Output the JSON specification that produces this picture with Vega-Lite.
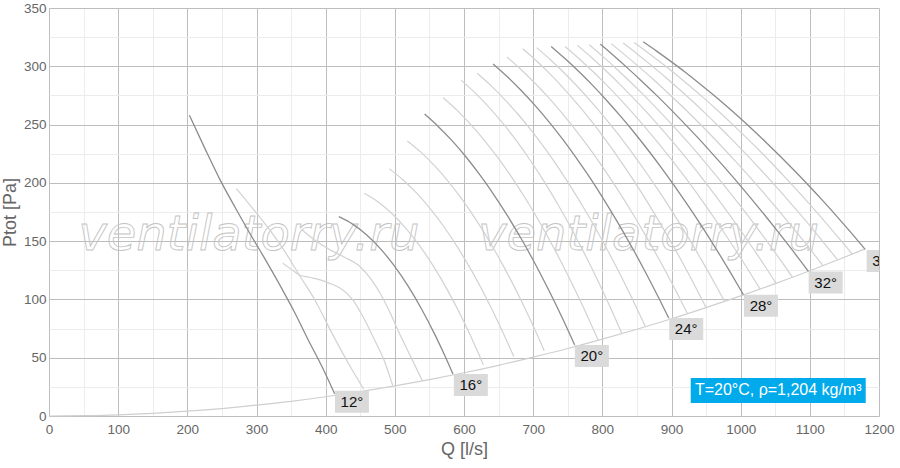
{
  "$schema": "https://vega.github.io/schema/vega-lite/v6.json",
  "width": 830,
  "height": 408,
  "autosize": "none",
  "padding": {"left": 49, "top": 8, "right": 21, "bottom": 52},
  "background": "#ffffff",
  "view": {"stroke": null},
  "config": {"font": "Liberation Sans"},
  "datasets": {
    "watermark": [
      {"q": 289, "p": 142, "text": "ventilatorry.ru"},
      {"q": 867, "p": 142, "text": "ventilatorry.ru"}
    ],
    "system": [
      {"q": 0, "p": 0}, {"q": 50, "p": 0.3}, {"q": 100, "p": 1}, {"q": 150, "p": 2.3}, {"q": 200, "p": 4.1},
      {"q": 250, "p": 6.4}, {"q": 300, "p": 9.3}, {"q": 350, "p": 12.6}, {"q": 400, "p": 16.5}, {"q": 450, "p": 20.9},
      {"q": 500, "p": 25.8}, {"q": 550, "p": 31.2}, {"q": 600, "p": 37.1}, {"q": 650, "p": 43.5}, {"q": 700, "p": 50.5},
      {"q": 750, "p": 57.9}, {"q": 800, "p": 65.9}, {"q": 850, "p": 74.4}, {"q": 900, "p": 83.4}, {"q": 950, "p": 93},
      {"q": 1000, "p": 103}, {"q": 1050, "p": 113.6}, {"q": 1100, "p": 124.6}, {"q": 1150, "p": 136.2}, {"q": 1180, "p": 143.4}
    ],
    "curves": [
      {"angle": 12, "q": 203, "p": 258}, {"angle": 12, "q": 225, "p": 230}, {"angle": 12, "q": 247, "p": 203}, {"angle": 12, "q": 270, "p": 178}, {"angle": 12, "q": 290, "p": 157}, {"angle": 12, "q": 312, "p": 135}, {"angle": 12, "q": 335, "p": 111}, {"angle": 12, "q": 355, "p": 89}, {"angle": 12, "q": 375, "p": 65}, {"angle": 12, "q": 395, "p": 42}, {"angle": 12, "q": 413, "p": 19},
      {"angle": 13, "q": 271, "p": 195}, {"angle": 13, "q": 285, "p": 185}, {"angle": 13, "q": 300, "p": 174}, {"angle": 13, "q": 320, "p": 159}, {"angle": 13, "q": 341, "p": 141}, {"angle": 13, "q": 365, "p": 118}, {"angle": 13, "q": 384, "p": 100}, {"angle": 13, "q": 410, "p": 70}, {"angle": 13, "q": 433, "p": 45}, {"angle": 13, "q": 455, "p": 23},
      {"angle": 14, "q": 338, "p": 131}, {"angle": 14, "q": 350, "p": 126}, {"angle": 14, "q": 362, "p": 121}, {"angle": 14, "q": 376, "p": 119}, {"angle": 14, "q": 391, "p": 117}, {"angle": 14, "q": 405, "p": 114}, {"angle": 14, "q": 420, "p": 110}, {"angle": 14, "q": 431, "p": 105}, {"angle": 14, "q": 440, "p": 99}, {"angle": 14, "q": 455, "p": 84}, {"angle": 14, "q": 470, "p": 66}, {"angle": 14, "q": 485, "p": 47}, {"angle": 14, "q": 497, "p": 26},
      {"angle": 15, "q": 365, "p": 160}, {"angle": 15, "q": 384, "p": 151}, {"angle": 15, "q": 405, "p": 143}, {"angle": 15, "q": 428, "p": 136}, {"angle": 15, "q": 450, "p": 128}, {"angle": 15, "q": 466, "p": 117}, {"angle": 15, "q": 480, "p": 104}, {"angle": 15, "q": 492, "p": 90}, {"angle": 15, "q": 505, "p": 73}, {"angle": 15, "q": 522, "p": 52}, {"angle": 15, "q": 540, "p": 30},
      {"angle": 16, "q": 419, "p": 171}, {"angle": 16, "q": 439, "p": 164.6}, {"angle": 16, "q": 459, "p": 155.5}, {"angle": 16, "q": 479, "p": 143.6}, {"angle": 16, "q": 499, "p": 129}, {"angle": 16, "q": 519, "p": 111.6}, {"angle": 16, "q": 539, "p": 91.4}, {"angle": 16, "q": 559, "p": 68.5}, {"angle": 16, "q": 574, "p": 49.5}, {"angle": 16, "q": 584, "p": 36},
      {"angle": 17, "q": 456, "p": 191}, {"angle": 17, "q": 476, "p": 183.5}, {"angle": 17, "q": 496, "p": 173.5}, {"angle": 17, "q": 516, "p": 161}, {"angle": 17, "q": 536, "p": 145.9}, {"angle": 17, "q": 556, "p": 128.3}, {"angle": 17, "q": 576, "p": 108.2}, {"angle": 17, "q": 596, "p": 85.5}, {"angle": 17, "q": 616, "p": 60.3}, {"angle": 17, "q": 628, "p": 44},
      {"angle": 18, "q": 492, "p": 212}, {"angle": 18, "q": 512, "p": 202.5}, {"angle": 18, "q": 532, "p": 191}, {"angle": 18, "q": 552, "p": 177.3}, {"angle": 18, "q": 572, "p": 161.5}, {"angle": 18, "q": 592, "p": 143.6}, {"angle": 18, "q": 612, "p": 123.6}, {"angle": 18, "q": 632, "p": 101.5}, {"angle": 18, "q": 652, "p": 77.3}, {"angle": 18, "q": 672, "p": 51},
      {"angle": 19, "q": 518, "p": 236}, {"angle": 19, "q": 538, "p": 226.1}, {"angle": 19, "q": 558, "p": 214.3}, {"angle": 19, "q": 578, "p": 200.7}, {"angle": 19, "q": 598, "p": 185.2}, {"angle": 19, "q": 618, "p": 167.8}, {"angle": 19, "q": 638, "p": 148.6}, {"angle": 19, "q": 658, "p": 127.5}, {"angle": 19, "q": 678, "p": 104.6}, {"angle": 19, "q": 698, "p": 79.9}, {"angle": 19, "q": 716, "p": 56},
      {"angle": 20, "q": 543, "p": 259}, {"angle": 20, "q": 563, "p": 248.2}, {"angle": 20, "q": 583, "p": 236}, {"angle": 20, "q": 603, "p": 222.2}, {"angle": 20, "q": 623, "p": 206.8}, {"angle": 20, "q": 643, "p": 190}, {"angle": 20, "q": 663, "p": 171.6}, {"angle": 20, "q": 683, "p": 151.8}, {"angle": 20, "q": 703, "p": 130.4}, {"angle": 20, "q": 723, "p": 107.4}, {"angle": 20, "q": 743, "p": 83}, {"angle": 20, "q": 760, "p": 61},
      {"angle": 21, "q": 570, "p": 273}, {"angle": 21, "q": 590, "p": 262.2}, {"angle": 21, "q": 610, "p": 249.9}, {"angle": 21, "q": 630, "p": 236.1}, {"angle": 21, "q": 650, "p": 220.8}, {"angle": 21, "q": 670, "p": 203.9}, {"angle": 21, "q": 690, "p": 185.5}, {"angle": 21, "q": 710, "p": 165.5}, {"angle": 21, "q": 730, "p": 144}, {"angle": 21, "q": 750, "p": 121}, {"angle": 21, "q": 770, "p": 96.5}, {"angle": 21, "q": 794, "p": 65},
      {"angle": 22, "q": 596, "p": 288}, {"angle": 22, "q": 616, "p": 277.2}, {"angle": 22, "q": 636, "p": 265}, {"angle": 22, "q": 656, "p": 251.2}, {"angle": 22, "q": 676, "p": 236}, {"angle": 22, "q": 696, "p": 219.2}, {"angle": 22, "q": 716, "p": 201}, {"angle": 22, "q": 736, "p": 181.2}, {"angle": 22, "q": 756, "p": 160}, {"angle": 22, "q": 776, "p": 137.2}, {"angle": 22, "q": 796, "p": 113}, {"angle": 22, "q": 816, "p": 87.2}, {"angle": 22, "q": 828, "p": 71},
      {"angle": 23, "q": 619, "p": 294}, {"angle": 23, "q": 639, "p": 283.4}, {"angle": 23, "q": 659, "p": 271.4}, {"angle": 23, "q": 679, "p": 258.2}, {"angle": 23, "q": 699, "p": 243.7}, {"angle": 23, "q": 719, "p": 227.8}, {"angle": 23, "q": 739, "p": 210.7}, {"angle": 23, "q": 759, "p": 192.3}, {"angle": 23, "q": 779, "p": 172.6}, {"angle": 23, "q": 799, "p": 151.6}, {"angle": 23, "q": 819, "p": 129.3}, {"angle": 23, "q": 839, "p": 105.7}, {"angle": 23, "q": 862, "p": 77},
      {"angle": 24, "q": 642, "p": 302}, {"angle": 24, "q": 662, "p": 291.4}, {"angle": 24, "q": 682, "p": 279.7}, {"angle": 24, "q": 702, "p": 266.9}, {"angle": 24, "q": 722, "p": 253}, {"angle": 24, "q": 742, "p": 237.9}, {"angle": 24, "q": 762, "p": 221.7}, {"angle": 24, "q": 782, "p": 204.4}, {"angle": 24, "q": 802, "p": 185.9}, {"angle": 24, "q": 822, "p": 166.3}, {"angle": 24, "q": 842, "p": 145.6}, {"angle": 24, "q": 862, "p": 123.8}, {"angle": 24, "q": 882, "p": 100.8}, {"angle": 24, "q": 896, "p": 84},
      {"angle": 25, "q": 662, "p": 308}, {"angle": 25, "q": 682, "p": 297.5}, {"angle": 25, "q": 702, "p": 285.9}, {"angle": 25, "q": 722, "p": 273.3}, {"angle": 25, "q": 742, "p": 259.6}, {"angle": 25, "q": 762, "p": 244.9}, {"angle": 25, "q": 782, "p": 229.1}, {"angle": 25, "q": 802, "p": 212.2}, {"angle": 25, "q": 822, "p": 194.4}, {"angle": 25, "q": 842, "p": 175.4}, {"angle": 25, "q": 862, "p": 155.4}, {"angle": 25, "q": 882, "p": 134.4}, {"angle": 25, "q": 902, "p": 112.3}, {"angle": 25, "q": 923, "p": 88},
      {"angle": 26, "q": 685, "p": 315}, {"angle": 26, "q": 705, "p": 304.5}, {"angle": 26, "q": 725, "p": 293}, {"angle": 26, "q": 745, "p": 280.4}, {"angle": 26, "q": 765, "p": 266.8}, {"angle": 26, "q": 785, "p": 252.3}, {"angle": 26, "q": 805, "p": 236.7}, {"angle": 26, "q": 825, "p": 220}, {"angle": 26, "q": 845, "p": 202.4}, {"angle": 26, "q": 865, "p": 183.7}, {"angle": 26, "q": 885, "p": 164}, {"angle": 26, "q": 905, "p": 143.3}, {"angle": 26, "q": 925, "p": 121.6}, {"angle": 26, "q": 950, "p": 93},
      {"angle": 27, "q": 705, "p": 316}, {"angle": 27, "q": 725, "p": 305.6}, {"angle": 27, "q": 745, "p": 294.2}, {"angle": 27, "q": 765, "p": 282}, {"angle": 27, "q": 785, "p": 268.9}, {"angle": 27, "q": 805, "p": 254.9}, {"angle": 27, "q": 825, "p": 240}, {"angle": 27, "q": 845, "p": 224.3}, {"angle": 27, "q": 865, "p": 207.6}, {"angle": 27, "q": 885, "p": 190.1}, {"angle": 27, "q": 905, "p": 171.7}, {"angle": 27, "q": 925, "p": 152.4}, {"angle": 27, "q": 945, "p": 132.2}, {"angle": 27, "q": 965, "p": 111.1}, {"angle": 27, "q": 977, "p": 98},
      {"angle": 28, "q": 726, "p": 317}, {"angle": 28, "q": 746, "p": 306.6}, {"angle": 28, "q": 766, "p": 295.5}, {"angle": 28, "q": 786, "p": 283.6}, {"angle": 28, "q": 806, "p": 270.9}, {"angle": 28, "q": 826, "p": 257.4}, {"angle": 28, "q": 846, "p": 243.2}, {"angle": 28, "q": 866, "p": 228.2}, {"angle": 28, "q": 886, "p": 212.5}, {"angle": 28, "q": 906, "p": 196}, {"angle": 28, "q": 926, "p": 178.7}, {"angle": 28, "q": 946, "p": 160.7}, {"angle": 28, "q": 966, "p": 141.9}, {"angle": 28, "q": 986, "p": 122.3}, {"angle": 28, "q": 1004, "p": 104},
      {"angle": 29, "q": 746, "p": 317}, {"angle": 29, "q": 766, "p": 306.7}, {"angle": 29, "q": 786, "p": 295.7}, {"angle": 29, "q": 806, "p": 284}, {"angle": 29, "q": 826, "p": 271.6}, {"angle": 29, "q": 846, "p": 258.6}, {"angle": 29, "q": 866, "p": 244.9}, {"angle": 29, "q": 886, "p": 230.5}, {"angle": 29, "q": 906, "p": 215.4}, {"angle": 29, "q": 926, "p": 199.7}, {"angle": 29, "q": 946, "p": 183.3}, {"angle": 29, "q": 966, "p": 166.2}, {"angle": 29, "q": 986, "p": 148.4}, {"angle": 29, "q": 1006, "p": 130}, {"angle": 29, "q": 1028, "p": 109},
      {"angle": 30, "q": 764, "p": 318}, {"angle": 30, "q": 784, "p": 307.7}, {"angle": 30, "q": 804, "p": 296.8}, {"angle": 30, "q": 824, "p": 285.4}, {"angle": 30, "q": 844, "p": 273.3}, {"angle": 30, "q": 864, "p": 260.7}, {"angle": 30, "q": 884, "p": 247.4}, {"angle": 30, "q": 904, "p": 233.6}, {"angle": 30, "q": 924, "p": 219.2}, {"angle": 30, "q": 944, "p": 204.2}, {"angle": 30, "q": 964, "p": 188.6}, {"angle": 30, "q": 984, "p": 172.5}, {"angle": 30, "q": 1004, "p": 155.7}, {"angle": 30, "q": 1024, "p": 138.4}, {"angle": 30, "q": 1051, "p": 114},
      {"angle": 31, "q": 781, "p": 318.5}, {"angle": 31, "q": 801, "p": 308.3}, {"angle": 31, "q": 821, "p": 297.5}, {"angle": 31, "q": 841, "p": 286.3}, {"angle": 31, "q": 861, "p": 274.6}, {"angle": 31, "q": 881, "p": 262.4}, {"angle": 31, "q": 901, "p": 249.8}, {"angle": 31, "q": 921, "p": 236.6}, {"angle": 31, "q": 941, "p": 223}, {"angle": 31, "q": 961, "p": 208.8}, {"angle": 31, "q": 981, "p": 194.2}, {"angle": 31, "q": 1001, "p": 179.1}, {"angle": 31, "q": 1021, "p": 163.5}, {"angle": 31, "q": 1041, "p": 147.5}, {"angle": 31, "q": 1061, "p": 130.9}, {"angle": 31, "q": 1075, "p": 119},
      {"angle": 32, "q": 797, "p": 319}, {"angle": 32, "q": 817, "p": 308.8}, {"angle": 32, "q": 837, "p": 298.2}, {"angle": 32, "q": 857, "p": 287.2}, {"angle": 32, "q": 877, "p": 275.9}, {"angle": 32, "q": 897, "p": 264.1}, {"angle": 32, "q": 917, "p": 251.9}, {"angle": 32, "q": 937, "p": 239.4}, {"angle": 32, "q": 957, "p": 226.4}, {"angle": 32, "q": 977, "p": 213.1}, {"angle": 32, "q": 997, "p": 199.4}, {"angle": 32, "q": 1017, "p": 185.2}, {"angle": 32, "q": 1037, "p": 170.7}, {"angle": 32, "q": 1057, "p": 155.8}, {"angle": 32, "q": 1077, "p": 140.5}, {"angle": 32, "q": 1098, "p": 124},
      {"angle": 33, "q": 813, "p": 319.3}, {"angle": 33, "q": 833, "p": 309.6}, {"angle": 33, "q": 853, "p": 299.5}, {"angle": 33, "q": 873, "p": 289.1}, {"angle": 33, "q": 893, "p": 278.2}, {"angle": 33, "q": 913, "p": 267}, {"angle": 33, "q": 933, "p": 255.4}, {"angle": 33, "q": 953, "p": 243.4}, {"angle": 33, "q": 973, "p": 231}, {"angle": 33, "q": 993, "p": 218.2}, {"angle": 33, "q": 1013, "p": 205.1}, {"angle": 33, "q": 1033, "p": 191.6}, {"angle": 33, "q": 1053, "p": 177.7}, {"angle": 33, "q": 1073, "p": 163.4}, {"angle": 33, "q": 1093, "p": 148.7}, {"angle": 33, "q": 1119, "p": 129},
      {"angle": 34, "q": 830, "p": 320}, {"angle": 34, "q": 850, "p": 310.8}, {"angle": 34, "q": 870, "p": 301.2}, {"angle": 34, "q": 890, "p": 291.3}, {"angle": 34, "q": 910, "p": 280.9}, {"angle": 34, "q": 930, "p": 270.2}, {"angle": 34, "q": 950, "p": 259}, {"angle": 34, "q": 970, "p": 247.5}, {"angle": 34, "q": 990, "p": 235.6}, {"angle": 34, "q": 1010, "p": 223.3}, {"angle": 34, "q": 1030, "p": 210.6}, {"angle": 34, "q": 1050, "p": 197.6}, {"angle": 34, "q": 1070, "p": 184.1}, {"angle": 34, "q": 1090, "p": 170.3}, {"angle": 34, "q": 1110, "p": 156.1}, {"angle": 34, "q": 1140, "p": 134},
      {"angle": 35, "q": 846, "p": 320.4}, {"angle": 35, "q": 866, "p": 311.7}, {"angle": 35, "q": 886, "p": 302.6}, {"angle": 35, "q": 906, "p": 293.2}, {"angle": 35, "q": 926, "p": 283.3}, {"angle": 35, "q": 946, "p": 273.1}, {"angle": 35, "q": 966, "p": 262.5}, {"angle": 35, "q": 986, "p": 251.5}, {"angle": 35, "q": 1006, "p": 240.1}, {"angle": 35, "q": 1026, "p": 228.4}, {"angle": 35, "q": 1046, "p": 216.2}, {"angle": 35, "q": 1066, "p": 203.7}, {"angle": 35, "q": 1086, "p": 190.8}, {"angle": 35, "q": 1106, "p": 177.5}, {"angle": 35, "q": 1126, "p": 163.8}, {"angle": 35, "q": 1146, "p": 149.8}, {"angle": 35, "q": 1161, "p": 139},
      {"angle": 36, "q": 859, "p": 321}, {"angle": 36, "q": 879, "p": 312.8}, {"angle": 36, "q": 899, "p": 304.2}, {"angle": 36, "q": 919, "p": 295.3}, {"angle": 36, "q": 939, "p": 285.9}, {"angle": 36, "q": 959, "p": 276.2}, {"angle": 36, "q": 979, "p": 266.1}, {"angle": 36, "q": 999, "p": 255.6}, {"angle": 36, "q": 1019, "p": 244.7}, {"angle": 36, "q": 1039, "p": 233.4}, {"angle": 36, "q": 1059, "p": 221.8}, {"angle": 36, "q": 1079, "p": 209.7}, {"angle": 36, "q": 1099, "p": 197.3}, {"angle": 36, "q": 1119, "p": 184.5}, {"angle": 36, "q": 1139, "p": 171.3}, {"angle": 36, "q": 1159, "p": 157.7}, {"angle": 36, "q": 1180, "p": 143}
    ],
    "labels": [
      {"label": "12°", "q": 413.4, "p": 21.6},
      {"label": "16°", "q": 585.3, "p": 36},
      {"label": "20°", "q": 760.3, "p": 61},
      {"label": "24°", "q": 896.7, "p": 84.1},
      {"label": "28°", "q": 1004.8, "p": 104.1},
      {"label": "32°", "q": 1098.3, "p": 123.9},
      {"label": "36°", "q": 1182.2, "p": 142.5}
    ],
    "note": [
      {"q": 1180.8, "p": 11.2, "text": "T=20°C, ρ=1,204 kg/m³"}
    ]
  },
  "encoding": {
    "x": {
      "field": "q",
      "type": "quantitative",
      "scale": {"domain": [0, 1200], "nice": false},
      "axis": {
        "title": "Q [l/s]",
        "values": [0, 50, 100, 150, 200, 250, 300, 350, 400, 450, 500, 550, 600, 650, 700, 750, 800, 850, 900, 950, 1000, 1050, 1100, 1150, 1200],
        "labelExpr": "datum.value % 100 === 0 ? datum.value : ''",
        "format": "d",
        "grid": true,
        "gridColor": {"condition": {"test": "datum.value % 100 === 0", "value": "#bdbdbd"}, "value": "#ececec"},
        "gridWidth": 1,
        "domain": false,
        "ticks": false,
        "tickSize": 0,
        "labelPadding": 6,
        "labelFont": "Liberation Sans",
        "labelFontSize": 13.5,
        "labelColor": "#666666",
        "labelFlush": false,
        "labelOverlap": false,
        "titleFont": "Liberation Sans",
        "titleFontSize": 18,
        "titleFontWeight": "normal",
        "titleColor": "#666666",
        "titleX": 415,
        "titleY": 38,
        "titleAlign": "center",
        "titleBaseline": "alphabetic"
      }
    },
    "y": {
      "field": "p",
      "type": "quantitative",
      "scale": {"domain": [0, 350], "nice": false},
      "axis": {
        "title": "Ptot [Pa]",
        "values": [0, 25, 50, 75, 100, 125, 150, 175, 200, 225, 250, 275, 300, 325, 350],
        "labelExpr": "datum.value % 50 === 0 ? datum.value : ''",
        "format": "d",
        "grid": true,
        "gridColor": {"condition": {"test": "datum.value % 50 === 0", "value": "#bdbdbd"}, "value": "#ececec"},
        "gridWidth": 1,
        "domain": false,
        "ticks": false,
        "tickSize": 0,
        "labelPadding": 3,
        "labelFont": "Liberation Sans",
        "labelFontSize": 13.5,
        "labelColor": "#666666",
        "labelFlush": false,
        "labelOverlap": false,
        "titleFont": "Liberation Sans",
        "titleFontSize": 18,
        "titleFontWeight": "normal",
        "titleColor": "#666666",
        "titleX": -39,
        "titleY": 204,
        "titleAlign": "center",
        "titleBaseline": "middle"
      }
    }
  },
  "layer": [
    {
      "data": {"name": "watermark"},
      "mark": {
        "type": "text",
        "font": "DejaVu Sans",
        "fontStyle": "italic",
        "fontSize": 48,
        "align": "center",
        "baseline": "alphabetic",
        "fillOpacity": 0,
        "stroke": "#c4c4c4",
        "strokeWidth": 0.9
      },
      "encoding": {"text": {"field": "text"}}
    },
    {
      "data": {"name": "system"},
      "mark": {"type": "line", "interpolate": "monotone", "color": "#cfcfcf", "strokeWidth": 1.2},
      "encoding": {}
    },
    {
      "data": {"name": "curves"},
      "transform": [{"filter": "datum.angle % 4 !== 0"}],
      "mark": {"type": "line", "interpolate": "monotone", "color": "#d2d2d2", "strokeWidth": 1.2},
      "encoding": {"detail": {"field": "angle", "type": "nominal"}}
    },
    {
      "data": {"name": "curves"},
      "transform": [{"filter": "datum.angle % 4 === 0"}],
      "mark": {"type": "line", "interpolate": "monotone", "color": "#8c8c8c", "strokeWidth": 1.3},
      "encoding": {"detail": {"field": "angle", "type": "nominal"}}
    },
    {
      "data": {"name": "labels"},
      "mark": {
        "type": "point",
        "shape": "M0,0H2V1.294H0Z",
        "size": 1156,
        "filled": true,
        "color": "#dadada",
        "opacity": 1,
        "strokeWidth": 0,
        "clip": true
      },
      "encoding": {}
    },
    {
      "data": {"name": "labels"},
      "mark": {
        "type": "text",
        "align": "center",
        "baseline": "middle",
        "dx": 17,
        "dy": 11,
        "font": "Liberation Sans",
        "fontSize": 15,
        "color": "#111111",
        "clip": true
      },
      "encoding": {"text": {"field": "label"}}
    },
    {
      "data": {"name": "note"},
      "mark": {
        "type": "point",
        "shape": "M0,0H-2V-0.2857H0Z",
        "size": 30625,
        "filled": true,
        "color": "#00aaeb",
        "opacity": 1,
        "strokeWidth": 0
      },
      "encoding": {}
    },
    {
      "data": {"name": "note"},
      "mark": {
        "type": "text",
        "align": "center",
        "baseline": "middle",
        "dx": -87.5,
        "dy": -12.5,
        "font": "Liberation Sans",
        "fontSize": 16,
        "color": "#ffffff"
      },
      "encoding": {"text": {"field": "text"}}
    }
  ]
}
